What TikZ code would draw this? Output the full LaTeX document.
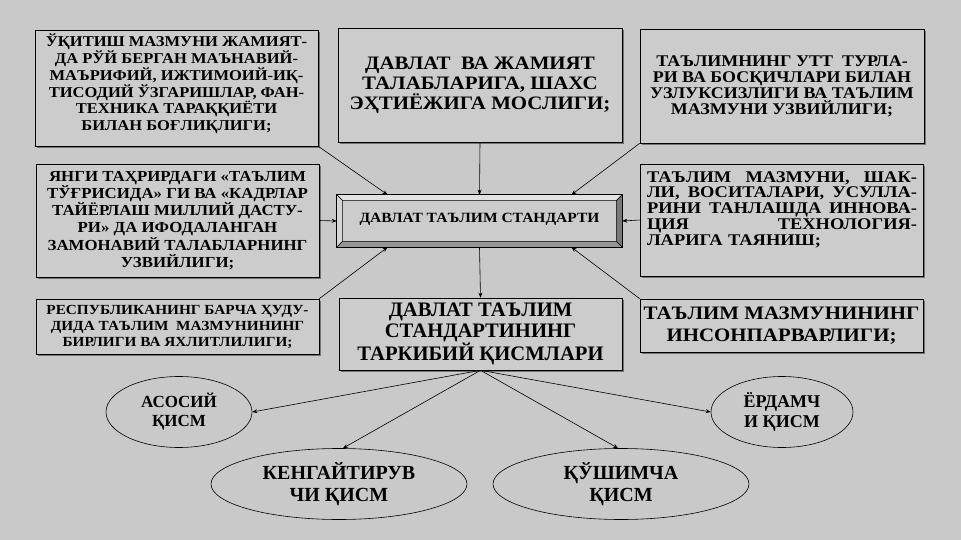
\documentclass[tikz,border=0pt]{standalone}
\usepackage{fontspec}
\setmainfont{Liberation Serif}
\newfontfamily\wfont{Liberation Serif}[FakeStretch=1.1]
\newfontfamily\xwfont{Liberation Serif}[FakeStretch=1.13]
\usetikzlibrary{arrows.meta,shapes.geometric,shadows,calc}
\definecolor{bg}{RGB}{201,201,201}
\definecolor{boxfill}{RGB}{204,204,204}
\definecolor{bevlight}{RGB}{226,226,226}
\definecolor{bevleft}{RGB}{214,214,214}
\definecolor{bevdark}{RGB}{120,120,120}
\definecolor{bevbot}{RGB}{150,150,150}
\newcommand\fsz[2]{\fontsize{#1}{#2}\selectfont\bfseries}
\newcommand\wsz[2]{\wfont\fontsize{#1}{#2}\selectfont\bfseries}
\newcommand\xwsz[2]{\xwfont\fontsize{#1}{#2}\selectfont\bfseries}
\newcommand\jline[1]{\leavevmode\hbox to 270pt{#1}}
\begin{document}
\begin{tikzpicture}[x=1pt,y=-1pt,
  box/.style={draw=black, line width=0.6pt, fill=boxfill, rectangle, inner sep=0pt,
    drop shadow={shadow xshift=1.6pt, shadow yshift=-1.6pt, fill=black!55, opacity=1}},
  ell/.style={draw=black, line width=0.6pt, ellipse, inner sep=0pt, fill=bg},
  conn/.style={draw=black, line width=0.6pt, -{Stealth[length=5pt,width=4pt]}},
  lbl/.style={align=center, inner sep=0pt}
]
\path[use as bounding box, fill=bg] (0,0) rectangle (961,540);

% boxes
\node[box, minimum width=283pt, minimum height=116pt] (tl) at (176.5,88) {};
\node[lbl, font=\wsz{15}{16.8}] at ($(tl)+(0,-4)$) {ЎҚИТИШ МАЗМУНИ ЖАМИЯТ-\\ДА РЎЙ БЕРГАН МАЪНАВИЙ-\\МАЪРИФИЙ, ИЖТИМОИЙ-ИҚ-\\ТИСОДИЙ ЎЗГАРИШЛАР, ФАН-\\ТЕХНИКА ТАРАҚҚИЁТИ\\БИЛАН БОҒЛИҚЛИГИ;};

\node[box, minimum width=284pt, minimum height=114pt] (tc) at (480,85) {};
\node[lbl, font=\wsz{19}{20}] at (tc) {ДАВЛАТ\ \ ВА ЖАМИЯТ\\ТАЛАБЛАРИГА, ШАХС\\ЭҲТИЁЖИГА МОСЛИГИ;};

\node[box, minimum width=284pt, minimum height=114pt] (tr) at (782,86) {};
\node[lbl, font=\wsz{16.3}{16}] at (tr) {ТАЪЛИМНИНГ УТТ\ \ ТУРЛА-\\РИ ВА БОСҚИЧЛАРИ БИЛАН\\УЗЛУКСИЗЛИГИ ВА ТАЪЛИМ\\МАЗМУНИ УЗВИЙЛИГИ;};

\node[box, minimum width=283pt, minimum height=113pt] (ml) at (177.5,220.5) {};
\node[lbl, font=\wsz{15.3}{17.2}] at (ml) {ЯНГИ ТАҲРИРДАГИ «ТАЪЛИМ\\ТЎҒРИСИДА» ГИ ВА «КАДРЛАР\\ТАЙЁРЛАШ МИЛЛИЙ ДАСТУ-\\РИ» ДА ИФОДАЛАНГАН\\ЗАМОНАВИЙ ТАЛАБЛАРНИНГ\\УЗВИЙЛИГИ;};

\node[box, minimum width=283pt, minimum height=112pt] (mr) at (781.5,220) {};
\node[lbl, align=left, text width=270pt, font=\xwsz{16.3}{15.7}] at ($(mr)+(0.5,-10.5)$) {\jline{ТАЪЛИМ \hfill МАЗМУНИ, \hfill ШАК-}\\\jline{ЛИ, \hfill ВОСИТАЛАРИ, \hfill УСУЛЛА-}\\\jline{РИНИ \hfill ТАНЛАШДА \hfill ИННОВА-}\\\jline{ЦИЯ \hfill ТЕХНОЛОГИЯ-}\\ЛАРИГА ТАЯНИШ;};

\node[box, minimum width=283pt, minimum height=55pt] (bl) at (177.5,326.5) {};
\node[lbl, font=\wsz{13.9}{16}] at (bl) {РЕСПУБЛИКАНИНГ БАРЧА ҲУДУ-\\ДИДА ТАЪЛИМ\ \ МАЗМУНИНИНГ\\БИРЛИГИ ВА ЯХЛИТЛИЛИГИ;};

\node[box, minimum width=283pt, minimum height=53pt] (br) at (781.5,325.5) {};
\node[lbl, font=\wsz{19}{22.5}] at (br) {ТАЪЛИМ МАЗМУНИНИНГ\\ИНСОНПАРВАРЛИГИ;};

\node[box, minimum width=283pt, minimum height=72pt] (parts) at (480.5,334) {};
\node[lbl, font=\fsz{20.6}{21.5}] at (parts) {ДАВЛАТ ТАЪЛИМ\\СТАНДАРТИНИНГ\\ТАРКИБИЙ ҚИСМЛАРИ};

% central bevelled box
\node[draw=black, line width=0.6pt, fill=boxfill, minimum width=285pt, minimum height=52pt, inner sep=0pt] (std) at (479.5,221) {};
\coordinate (iNW) at ($(std.north west)+(6,6)$);
\coordinate (iNE) at ($(std.north east)+(-6,6)$);
\coordinate (iSW) at ($(std.south west)+(6,-6)$);
\coordinate (iSE) at ($(std.south east)+(-6,-6)$);
\filldraw[fill=bevlight, draw=black, line width=0.5pt] (std.north west) -- (std.north east) -- (iNE) -- (iNW) -- cycle;
\filldraw[fill=bevleft, draw=black, line width=0.5pt] (std.north west) -- (iNW) -- (iSW) -- (std.south west) -- cycle;
\filldraw[fill=bevdark, draw=black, line width=0.5pt] (std.north east) -- (std.south east) -- (iSE) -- (iNE) -- cycle;
\filldraw[fill=bevbot, draw=black, line width=0.5pt] (std.south west) -- (std.south east) -- (iSE) -- (iSW) -- cycle;
\draw[black, line width=0.6pt] (std.north west) rectangle (std.south east);
\node[lbl, font=\wsz{14.1}{15}] at ($(std)+(0,-2)$) {ДАВЛАТ ТАЪЛИМ СТАНДАРТИ};

% ellipses
\node[ell, minimum width=146pt, minimum height=71pt] (e1) at (179,412) {};
\node[lbl, font=\fsz{17}{19}] at (e1) {АСОСИЙ\\ҚИСМ};
\node[ell, minimum width=256pt, minimum height=71pt] (e2) at (339,484) {};
\node[lbl, font=\fsz{20}{22}] at (e2) {КЕНГАЙТИРУВ\\ЧИ ҚИСМ};
\node[ell, minimum width=142pt, minimum height=71pt] (e3) at (782,412) {};
\node[lbl, font=\fsz{18}{20}] at (e3) {ЁРДАМЧ\\И ҚИСМ};
\node[ell, minimum width=256pt, minimum height=71pt] (e4) at (621,484) {};
\node[lbl, font=\fsz{20}{22}] at (e4) {ҚЎШИМЧА\\ҚИСМ};

% connectors
\draw[conn] (tl.south east) -- ($(std.north)+(-92,0)$);
\draw[conn] (tc.south) -- (std.north);
\draw[conn] (tr.south west) -- ($(std.north)+(92,0)$);
\draw[conn] (ml.east) -- (std.west);
\draw[conn] (mr.west) -- (std.east);
\draw[conn] (bl.north east) -- ($(std.south)+(-92,0)$);
\draw[conn] (br.north west) -- ($(std.south)+(92,0)$);
\draw[conn] (std.south) -- (parts.north);
\draw[conn] (parts.south) -- (e1.east);
\draw[conn] (parts.south) -- ($(e2.north)+(4,0)$);
\draw[conn] (parts.south) -- (e3.west);
\draw[conn] (parts.south) -- ($(e4.north)+(-3,0)$);
\end{tikzpicture}
\end{document}
